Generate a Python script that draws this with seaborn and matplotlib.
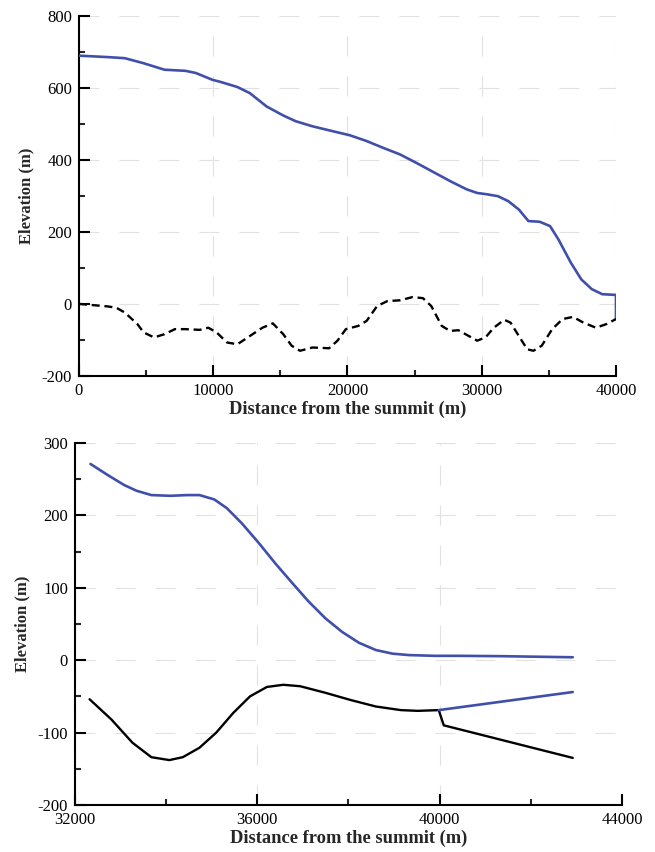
import numpy as np
import pandas as pd
import matplotlib
matplotlib.use("Agg")
import matplotlib.pyplot as plt
from matplotlib.ticker import MultipleLocator
import seaborn as sns

# ---------------- data: top panel (whole profile) ----------------
top_surface_x = [0, 2170, 3415, 4815, 6370, 7920, 8700, 9940, 10560, 11800, 12730,
                 13975, 15215, 16150, 17390, 18945, 20185, 21430, 22670, 23910,
                 25155, 26400, 27640, 28880, 29660, 30435, 31210, 31990, 32765,
                 33480, 34320, 35090, 35715, 36645, 37420, 38200, 38975, 40000, 40000]
top_surface_y = [689, 685, 682, 668, 650, 647, 641, 622, 616, 602, 585,
                 548, 523, 507, 493, 479, 468, 452, 433, 415,
                 391, 366, 341, 318, 308, 304, 299, 285, 262,
                 230, 228, 216, 179, 114, 68, 41, 27, 25, -42]

top_bed_x = [0, 2170, 2800, 3415, 4350, 4815, 5590, 6370, 7140, 7920, 9000, 9630,
             10250, 11025, 11800, 12730, 13665, 14440, 15215, 15840, 16460, 17390,
             18630, 19255, 19880, 20810, 21430, 22205, 22980, 23910, 24845, 25620,
             26245, 27020, 27640, 28260, 29035, 29660, 30280, 30900, 31680, 32150,
             32765, 33390, 33850, 34470, 35250, 36025, 36800, 37580, 38510, 39290, 40000]
top_bed_y = [0, -7, -11, -24, -56, -79, -93, -84, -70, -70, -72, -66,
             -79, -107, -112, -89, -66, -54, -84, -116, -130, -121,
             -123, -102, -70, -61, -47, -6, 8, 10, 19, 16,
             -6, -61, -75, -73, -89, -102, -93, -66, -44, -52,
             -89, -126, -130, -116, -70, -42, -36, -52, -66, -56, -42]

# ---------------- data: bottom panel (terminus zoom) ----------------
bot_surface_x = [32340, 32710, 33075, 33350, 33675, 34090, 34455, 34730, 35055, 35330,
                 35660, 36030, 36390, 36760, 37125, 37490, 37860, 38230, 38600, 38965,
                 39330, 39890, 40440, 41360, 42920]
bot_surface_y = [271, 256, 242, 234, 228, 227, 228, 228, 222, 210,
                 189, 162, 134, 107, 81, 58, 39, 24, 14, 9,
                 7, 6, 6, 5.5, 4]

bot_bed_x = [32320, 32800, 33260, 33675, 34070, 34365, 34730, 35100, 35470, 35840,
             36210, 36570, 36940, 37490, 38045, 38600, 39150, 39520, 39980, 40090, 42920]
bot_bed_y = [-54, -82, -114, -134, -138, -134, -121, -100, -73, -50,
             -37, -34, -36, -45, -55, -64, -69, -70, -69, -90, -135]

bot_base_x = [39980, 42920]
bot_base_y = [-69, -44]

BLUE = "#4050AA"

sns.set_style("white")
plt.rcParams["font.family"] = ["Liberation Serif", "DejaVu Serif"]
plt.rcParams["axes.linewidth"] = 1.5
plt.rcParams["axes.unicode_minus"] = False

fig = plt.figure(figsize=(6.55, 8.52), dpi=100)
ax1 = fig.add_axes([0.1206, 0.5587, 0.8198, 0.4229])
ax2 = fig.add_axes([0.1145, 0.0552, 0.8351, 0.4249])

df_ts = pd.DataFrame({"x": top_surface_x, "y": top_surface_y})
df_tb = pd.DataFrame({"x": top_bed_x, "y": top_bed_y})
df_bs = pd.DataFrame({"x": bot_surface_x, "y": bot_surface_y})
df_bb = pd.DataFrame({"x": bot_bed_x, "y": bot_bed_y})
df_bz = pd.DataFrame({"x": bot_base_x, "y": bot_base_y})

sns.lineplot(data=df_ts, x="x", y="y", ax=ax1, color=BLUE, lw=1.9,
             estimator=None, sort=False, zorder=3)
sns.lineplot(data=df_tb, x="x", y="y", ax=ax1, color="black", lw=1.7,
             estimator=None, sort=False, zorder=3)
ax1.lines[-1].set_dashes((3.4, 2.0))

sns.lineplot(data=df_bs, x="x", y="y", ax=ax2, color=BLUE, lw=1.9,
             estimator=None, sort=False, zorder=3)
sns.lineplot(data=df_bb, x="x", y="y", ax=ax2, color="black", lw=1.7,
             estimator=None, sort=False, zorder=3)
sns.lineplot(data=df_bz, x="x", y="y", ax=ax2, color=BLUE, lw=1.9,
             estimator=None, sort=False, zorder=3)

def style(ax, xlim, ylim, xmaj, xmin, ymaj, ymin):
    ax.set_xlim(*xlim)
    ax.set_ylim(*ylim)
    ax.xaxis.set_major_locator(MultipleLocator(xmaj))
    ax.xaxis.set_minor_locator(MultipleLocator(xmin))
    ax.yaxis.set_major_locator(MultipleLocator(ymaj))
    ax.yaxis.set_minor_locator(MultipleLocator(ymin))
    for s in ["top", "right"]:
        ax.spines[s].set_visible(False)
    for s in ["left", "bottom"]:
        ax.spines[s].set_linewidth(1.5)
        ax.spines[s].set_color("black")
    ax.tick_params(which="major", direction="in", length=8, width=1.5,
                   labelsize=12, left=True, bottom=True, pad=5, colors="black")
    ax.tick_params(which="minor", direction="in", length=4, width=1.5,
                   left=True, bottom=True)
    ax.grid(True, which="major", color="#e2e2e2", lw=0.8, ls=(0, (18, 18)))
    ax.set_axisbelow(True)
    ax.set_xlabel("Distance from the summit (m)", fontsize=13.3, fontweight="bold",
                  labelpad=1)
    ax.set_ylabel("Elevation (m)", fontsize=12, fontweight="bold", labelpad=5)

style(ax1, (0, 40000), (-200, 800), 10000, 5000, 200, 100)
style(ax2, (32000, 44000), (-200, 300), 4000, 2000, 100, 50)

fig.savefig("out.png", dpi=100)
